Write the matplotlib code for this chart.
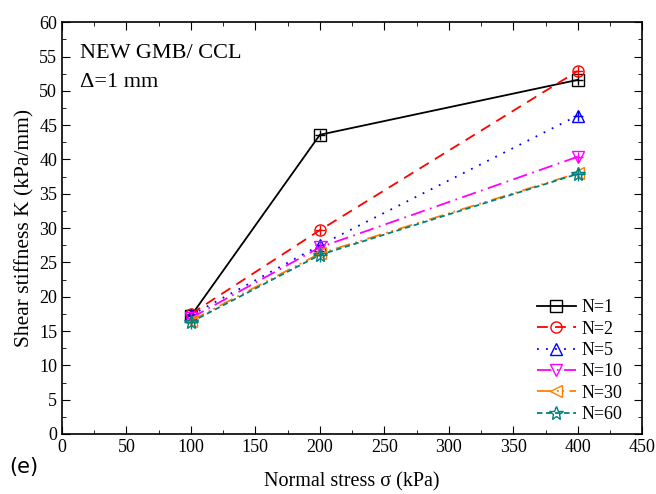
import matplotlib
matplotlib.use('Agg')
import matplotlib.pyplot as plt
from matplotlib.ticker import MultipleLocator

# ------------------------------------------------------------
# Data: shear stiffness K (kPa/mm) vs normal stress
# ------------------------------------------------------------
stress = [100, 200, 400]
labels = ['N=1', 'N=2', 'N=5', 'N=10', 'N=30', 'N=60']
k_n1 = [17.2, 43.6, 51.6]
k_n2 = [17.5, 29.7, 52.9]
k_n5 = [17.3, 27.5, 46.4]
k_n10 = [16.9, 27.2, 40.4]
k_n30 = [16.5, 26.3, 38.0]
k_n60 = [16.3, 26.1, 37.9]

series = [k_n1, k_n2, k_n5, k_n10, k_n30, k_n60]
colors = ['black', 'red', 'blue', 'magenta', '#ff8000', '#008080']
markers = ['s', 'o', '^', 'v', '<', '*']
styles = ['-', (0, (6, 4)), (0, (1, 4)), (0, (8, 3, 1, 3)), (0, (8, 3, 1, 2, 1, 3)), (0, (3, 2))]

plt.rcParams['font.family'] = ['Liberation Serif', 'DejaVu Serif']

fig = plt.figure(figsize=(6.56, 4.94), dpi=100)
ax = fig.add_axes([0.0945, 0.1215, 0.8845, 0.8335])

for vals, lab, c, m, ls in zip(series, labels, colors, markers, styles):
    ms = 8 if m != '*' else 10
    ax.plot(stress, vals, color=c, linestyle=ls, linewidth=1.3,
            marker=m, markersize=ms, markerfacecolor='none',
            markeredgecolor=c, markeredgewidth=1.0, label=lab)
    # Origin style cross inside the marker
    ax.plot(stress, vals, linestyle='none', marker='+', markersize=ms - 0.5,
            color=c, markeredgewidth=1.0)

ax.set_xlim(0, 450)
ax.set_ylim(0, 60)
ax.xaxis.set_major_locator(MultipleLocator(50))
ax.xaxis.set_minor_locator(MultipleLocator(25))
ax.yaxis.set_major_locator(MultipleLocator(5))
ax.yaxis.set_minor_locator(MultipleLocator(2.5))
ax.tick_params(which='both', direction='in', top=True, right=True, labelsize=13)
ax.tick_params(which='major', length=6)
ax.tick_params(which='minor', length=3)
for sp in ax.spines.values():
    sp.set_linewidth(1.2)

ax.set_xlabel('Normal stress σ (kPa)', fontsize=14.5, labelpad=12)
ax.set_ylabel('Shear stiffness K (kPa/mm)', fontsize=15.5, labelpad=3)

ax.text(14, 54.8, 'NEW GMB/ CCL', fontsize=16)
ax.text(14, 50.5, 'Δ=1 mm', fontsize=16)

fig.text(0.014, 0.043, '(e)', fontsize=15, family='DejaVu Sans')

ax.legend(loc='lower right', frameon=False, fontsize=13, handlelength=2.2,
          labelspacing=0.24, handletextpad=0.3, borderaxespad=0.2,
          bbox_to_anchor=(0.985, 0.0))

plt.savefig('out.png', dpi=100)
plt.close()
